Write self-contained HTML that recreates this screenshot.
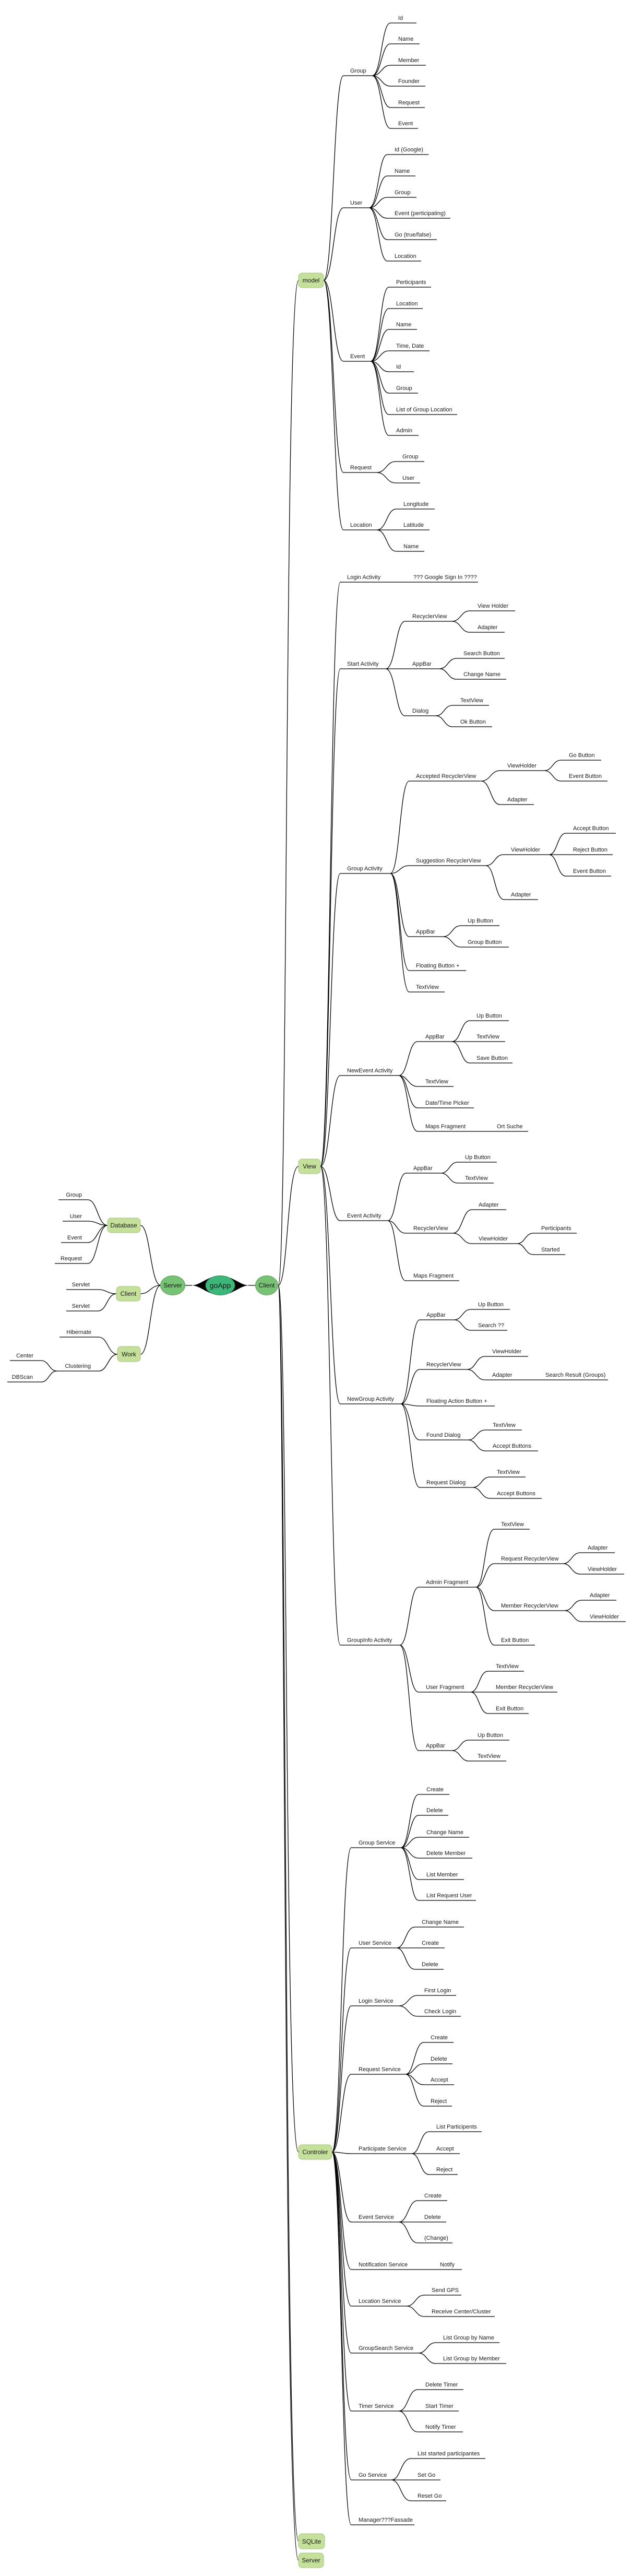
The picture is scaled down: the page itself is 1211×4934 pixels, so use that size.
<!DOCTYPE html>
<html><head><meta charset="utf-8"><style>
html,body{margin:0;padding:0;background:#fff;}
svg{display:block;}
text{font-family:"Liberation Sans",sans-serif;font-size:11px;fill:#1a1a1a;}
.b{font-size:12px;text-anchor:middle;}
</style></head><body>
<svg width="1211" height="4934" viewBox="0 0 1211 4934" xmlns="http://www.w3.org/2000/svg">
<g fill="none" stroke="#000" stroke-width="1.3">
<!-- Client trunk -->
<path d="M533 2462C552 2462 545 537 572 537"/>
<path d="M533 2462C552 2462 550 2234 572 2234"/>
<path d="M533 2462C552 2462 545 4122 572 4122"/>
<path d="M533 2462C548 2462 545 4867 572 4867"/>
<path d="M533 2462C546 2462 543 4904 572 4904"/>
<!-- left side -->
<path d="M308 2462C288 2462 288 2347 269 2347"/>
<path d="M308 2462C288 2462 288 2478 269 2478"/>
<path d="M308 2462C288 2462 288 2594 269 2594"/>
<path d="M206 2347C187 2347 187 2298 168 2298H112"/>
<path d="M206 2347C187 2347 187 2339 168 2339H120"/>
<path d="M206 2347C187 2347 187 2380 168 2380H117"/>
<path d="M206 2347C187 2347 187 2420 168 2420H105"/>
<path d="M223 2478C205 2478 205 2470 188 2470H127"/>
<path d="M223 2478C205 2478 205 2511 188 2511H127"/>
<path d="M225 2594C207 2594 207 2561 189 2561H114"/>
<path d="M225 2594C207 2594 207 2626 189 2626H109"/>
<path d="M109 2626C94 2626 94 2606 79 2606H19"/>
<path d="M109 2626C94 2626 94 2647 79 2647H14"/>
<path d="M355 2462H368M476 2462H490"/>
<!-- model -->
<path d="M620 537C639 537 639 145 658 145H713"/>
<path d="M713 145C731 145 731 44 748 44H798M713 145C731 145 731 84 748 84H804M713 145C731 145 731 125 748 125H816M713 145C731 145 731 165 748 165H815M713 145C731 145 731 206 748 206H814M713 145C731 145 731 246 748 246H801"/>
<path d="M620 537C639 537 639 398 658 398H707"/>
<path d="M707 398C725 398 725 296 742 296H821M707 398C725 398 725 337 742 337H796M707 398C725 398 725 378 742 378H798M707 398C725 398 725 418 742 418H863M707 398C725 398 725 459 742 459H837M707 398C725 398 725 500 742 500H807"/>
<path d="M620 537C639 537 639 692 658 692H710"/>
<path d="M710 692C728 692 728 550 745 550H826M710 692C728 692 728 591 745 591H810M710 692C728 692 728 631 745 631H799M710 692C728 692 728 672 745 672H823M710 692C728 692 728 712 745 712H793M710 692C728 692 728 753 745 753H801M710 692C728 692 728 794 745 794H876M710 692C728 692 728 834 745 834H802"/>
<path d="M620 537C639 537 639 905 658 905H722"/>
<path d="M722 905C740 905 740 884 758 884H813M722 905C740 905 740 925 758 925H805"/>
<path d="M620 537C639 537 639 1015 658 1015H722"/>
<path d="M722 1015C741 1015 741 975 759 975H833M722 1015C741 1015 741 1015 759 1015H823M722 1015C741 1015 741 1056 759 1056H813"/>
<!-- View -->
<path d="M614 2234C633 2234 633 1115 652 1115H916"/>
<path d="M614 2234C633 2234 633 1281 652 1281H739"/>
<path d="M739 1281C758 1281 758 1190 776 1190H866M739 1281C758 1281 758 1281 776 1281H842M739 1281C758 1281 758 1371 776 1371H835"/>
<path d="M866 1190C883 1190 883 1170 900 1170H987M866 1190C883 1190 883 1211 900 1211H967"/>
<path d="M842 1281C858 1281 858 1261 875 1261H967M842 1281C858 1281 858 1301 875 1301H970"/>
<path d="M835 1371C851 1371 851 1351 867 1351H937M835 1371C851 1371 851 1392 867 1392H943"/>
<path d="M614 2234C633 2234 633 1673 652 1673H748"/>
<path d="M748 1673C766 1673 766 1496 784 1496H922M748 1673C766 1673 766 1658 784 1658H931M748 1673C766 1673 766 1794 784 1794H849M748 1673C766 1673 766 1859 784 1859H893M748 1673C766 1673 766 1900 784 1900H852"/>
<path d="M922 1496C940 1496 940 1476 958 1476H1043M922 1496C940 1496 940 1541 958 1541H1023"/>
<path d="M1043 1476C1059 1476 1059 1456 1075 1456H1152M1043 1476C1059 1476 1059 1496 1075 1496H1164"/>
<path d="M931 1658C948 1658 948 1637 964 1637H1052M931 1658C948 1658 948 1723 966 1723H1031"/>
<path d="M1052 1637C1068 1637 1068 1596 1084 1596H1180M1052 1637C1068 1637 1068 1637 1084 1637H1174M1052 1637C1068 1637 1068 1678 1084 1678H1171"/>
<path d="M849 1794C866 1794 866 1773 883 1773H957M849 1794C866 1794 866 1814 883 1814H975"/>
<path d="M614 2234C633 2234 633 2060 652 2060H764"/>
<path d="M764 2060C782 2060 782 1995 800 1995H866M764 2060C782 2060 782 2081 800 2081H869M764 2060C782 2060 782 2122 800 2122H908M764 2060C782 2060 782 2167 800 2167H1012"/>
<path d="M866 1995C883 1995 883 1955 900 1955H975M866 1995C883 1995 883 1995 900 1995H968M866 1995C883 1995 883 2036 900 2036H982"/>
<path d="M614 2234C633 2234 633 2338 652 2338H743"/>
<path d="M743 2338C760 2338 760 2247 778 2247H845M743 2338C760 2338 760 2362 777 2362H868M743 2338C760 2338 760 2453 777 2453H880"/>
<path d="M845 2247C861 2247 861 2226 877 2226H952M845 2247C861 2247 861 2266 877 2266H946"/>
<path d="M868 2362C886 2362 886 2317 904 2317H970M868 2362C886 2362 886 2382 904 2382H991"/>
<path d="M991 2382C1006 2382 1006 2362 1022 2362H1105M991 2382C1006 2382 1006 2403 1022 2403H1083"/>
<path d="M614 2234C633 2234 633 2689 652 2689H768"/>
<path d="M768 2689C786 2689 786 2528 804 2528H870M768 2689C786 2689 786 2623 804 2623H895M768 2689C786 2689 786 2693 804 2693H948M768 2689C786 2689 786 2758 804 2758H897M768 2689C786 2689 786 2849 804 2849H906"/>
<path d="M870 2528C886 2528 886 2508 902 2508H977M870 2528C886 2528 886 2548 902 2548H972"/>
<path d="M895 2623C912 2623 912 2598 929 2598H1012M895 2623C912 2623 912 2643 929 2643H1165"/>
<path d="M897 2758C913 2758 913 2739 930 2739H1000M897 2758C913 2758 913 2779 930 2779H1031"/>
<path d="M906 2849C922 2849 922 2829 939 2829H1007M906 2849C922 2849 922 2870 939 2870H1038"/>
<path d="M614 2234C633 2234 633 3151 652 3151H766"/>
<path d="M766 3151C784 3151 784 3040 802 3040H912M766 3151C784 3151 784 3241 802 3241H902M766 3151C784 3151 784 3353 802 3353H866"/>
<path d="M912 3040C929 3040 929 2929 947 2929H1015M912 3040C929 3040 929 2995 947 2995H1079M912 3040C929 3040 929 3085 947 3085H1082M912 3040C929 3040 929 3151 947 3151H1025"/>
<path d="M1079 2995C1095 2995 1095 2974 1112 2974H1178M1079 2995C1095 2995 1095 3015 1112 3015H1196"/>
<path d="M1082 3085C1098 3085 1098 3065 1115 3065H1181M1082 3085C1098 3085 1098 3106 1115 3106H1199"/>
<path d="M902 3241C918 3241 918 3201 935 3201H1004M902 3241C918 3241 918 3241 935 3241H1068M902 3241C918 3241 918 3282 935 3282H1013"/>
<path d="M866 3353C882 3353 882 3333 898 3333H976M866 3353C882 3353 882 3373 898 3373H970"/>
<!-- Controler -->
<path d="M636 4122C654 4122 654 3539 673 3539H768"/>
<path d="M768 3539C785 3539 785 3437 802 3437H861M768 3539C785 3539 785 3477 802 3477H859M768 3539C785 3539 785 3519 802 3519H899M768 3539C785 3539 785 3559 802 3559H905M768 3539C785 3539 785 3600 802 3600H889M768 3539C785 3539 785 3640 802 3640H912"/>
<path d="M636 4122C654 4122 654 3731 673 3731H760"/>
<path d="M760 3731C777 3731 777 3691 795 3691H889M760 3731C777 3731 777 3731 795 3731H852M760 3731C777 3731 777 3772 795 3772H850"/>
<path d="M636 4122C654 4122 654 3842 673 3842H764"/>
<path d="M764 3842C782 3842 782 3822 800 3822H874M764 3842C782 3842 782 3862 800 3862H883"/>
<path d="M636 4122C654 4122 654 3973 673 3973H777"/>
<path d="M777 3973C794 3973 794 3912 812 3912H869M777 3973C794 3973 794 3953 812 3953H867M777 3973C794 3973 794 3993 812 3993H870M777 3973C794 3973 794 4034 812 4034H866"/>
<path d="M636 4122C654 4122 654 4125 673 4125H789"/>
<path d="M789 4125C805 4125 805 4083 822 4083H923M789 4125C805 4125 805 4125 822 4125H881M789 4125C805 4125 805 4165 822 4165H877"/>
<path d="M636 4122C654 4122 654 4256 673 4256H764"/>
<path d="M764 4256C782 4256 782 4215 800 4215H857M764 4256C782 4256 782 4256 800 4256H855M764 4256C782 4256 782 4296 800 4296H867"/>
<path d="M636 4122C654 4122 654 4347 673 4347H885"/>
<path d="M636 4122C654 4122 654 4417 673 4417H779"/>
<path d="M779 4417C796 4417 796 4396 813 4396H884M779 4417C796 4417 796 4437 813 4437H948"/>
<path d="M636 4122C654 4122 654 4507 673 4507H802"/>
<path d="M802 4507C818 4507 818 4487 835 4487H957M802 4507C818 4507 818 4527 835 4527H970"/>
<path d="M636 4122C654 4122 654 4618 673 4618H764"/>
<path d="M764 4618C782 4618 782 4577 800 4577H888M764 4618C782 4618 782 4618 800 4618H879M764 4618C782 4618 782 4658 800 4658H887"/>
<path d="M636 4122C654 4122 654 4750 673 4750H750"/>
<path d="M750 4750C768 4750 768 4709 787 4709H930M750 4750C768 4750 768 4750 787 4750H844M750 4750C768 4750 768 4790 787 4790H855"/>
<path d="M636 4122C654 4122 654 4836 673 4836H794"/>
</g>
<!-- goApp spindles -->
<path d="M366 2462C385 2462 396 2444 422 2444L422 2480C396 2480 385 2462 366 2462Z" fill="#000"/>
<path d="M478 2462C459 2462 448 2444 422 2444L422 2480C448 2480 459 2462 478 2462Z" fill="#000"/>
<!-- nodes -->
<g stroke="#a5c57e" stroke-width="1" fill="#c5e09b">
<rect x="572" y="523" width="48" height="28" rx="7"/>
<rect x="572" y="2220" width="42" height="28" rx="7"/>
<rect x="572" y="4108" width="64" height="28" rx="7"/>
<rect x="572" y="4853" width="50" height="29" rx="7"/>
<rect x="572" y="4890" width="48" height="28" rx="7"/>
<rect x="206" y="2333" width="63" height="28" rx="7"/>
<rect x="223" y="2464" width="46" height="28" rx="7"/>
<rect x="225" y="2579" width="44" height="29" rx="7"/>
</g>
<ellipse cx="331" cy="2462" rx="23.5" ry="18.5" fill="#78c275" stroke="#5f9f5c"/>
<ellipse cx="511" cy="2462" rx="21.5" ry="18.5" fill="#78c275" stroke="#5f9f5c"/>
<ellipse cx="422" cy="2462" rx="28" ry="18.5" fill="#3cb679" stroke="#2c8a5a"/>
<text class="b" x="596" y="541">model</text>
<text class="b" x="593" y="2238">View</text>
<text class="b" x="604" y="4126">Controler</text>
<text class="b" x="597" y="4872">SQLite</text>
<text class="b" x="596" y="4908">Server</text>
<text class="b" x="237" y="2351">Database</text>
<text class="b" x="246" y="2482">Client</text>
<text class="b" x="247" y="2598">Work</text>
<text class="b" x="331" y="2466">Server</text>
<text class="b" x="511" y="2466">Client</text>
<text class="b" x="422" y="2467" style="font-size:14px">goApp</text>
<!-- left labels -->
<g text-anchor="end">
<text x="157" y="2292">Group</text><text x="157" y="2333">User</text><text x="157" y="2374">Event</text><text x="157" y="2414">Request</text>
<text x="172" y="2464">Servlet</text><text x="172" y="2505">Servlet</text>
<text x="175" y="2555">Hibernate</text><text x="174" y="2620">Clustering</text>
<text x="64" y="2600">Center</text><text x="63" y="2641">DBScan</text>
</g>
<!-- model labels -->
<text x="671" y="139">Group</text>
<text x="763" y="38">Id</text><text x="763" y="78">Name</text><text x="763" y="119">Member</text><text x="763" y="159">Founder</text><text x="763" y="200">Request</text><text x="763" y="240">Event</text>
<text x="671" y="392">User</text>
<text x="756" y="290">Id (Google)</text><text x="756" y="331">Name</text><text x="756" y="372">Group</text><text x="756" y="412">Event (perticipating)</text><text x="756" y="453">Go (true/false)</text><text x="756" y="494">Location</text>
<text x="671" y="686">Event</text>
<text x="759" y="544">Perticipants</text><text x="759" y="585">Location</text><text x="759" y="625">Name</text><text x="759" y="666">Time, Date</text><text x="759" y="706">Id</text><text x="759" y="747">Group</text><text x="759" y="788">List of Group Location</text><text x="759" y="828">Admin</text>
<text x="671" y="899">Request</text>
<text x="771" y="878">Group</text><text x="771" y="919">User</text>
<text x="671" y="1009">Location</text>
<text x="773" y="969">Longitude</text><text x="773" y="1009">Latitude</text><text x="773" y="1050">Name</text>
<!-- View labels -->
<text x="665" y="1109">Login Activity</text><text x="792" y="1109">??? Google Sign In ????</text>
<text x="665" y="1275">Start Activity</text>
<text x="790" y="1184">RecyclerView</text><text x="915" y="1164">View Holder</text><text x="915" y="1205">Adapter</text>
<text x="790" y="1275">AppBar</text><text x="888" y="1255">Search Button</text><text x="888" y="1295">Change Name</text>
<text x="790" y="1365">Dialog</text><text x="882" y="1345">TextView</text><text x="882" y="1386">Ok Button</text>
<text x="665" y="1667">Group Activity</text>
<text x="797" y="1490">Accepted RecyclerView</text><text x="972" y="1470">ViewHolder</text><text x="1090" y="1450">Go Button</text><text x="1090" y="1490">Event Button</text><text x="972" y="1535">Adapter</text>
<text x="797" y="1652">Suggestion RecyclerView</text><text x="979" y="1631">ViewHolder</text><text x="1098" y="1590">Accept Button</text><text x="1098" y="1631">Reject Button</text><text x="1098" y="1672">Event Button</text><text x="979" y="1717">Adapter</text>
<text x="797" y="1788">AppBar</text><text x="896" y="1767">Up Button</text><text x="896" y="1808">Group Button</text>
<text x="797" y="1853">Floating Button +</text><text x="797" y="1894">TextView</text>
<text x="665" y="2054">NewEvent Activity</text>
<text x="815" y="1989">AppBar</text><text x="913" y="1949">Up Button</text><text x="913" y="1989">TextView</text><text x="913" y="2030">Save Button</text>
<text x="815" y="2075">TextView</text><text x="815" y="2116">Date/Time Picker</text><text x="815" y="2161">Maps Fragment</text><text x="952" y="2161">Ort Suche</text>
<text x="665" y="2332">Event Activity</text>
<text x="792" y="2241">AppBar</text><text x="891" y="2220">Up Button</text><text x="891" y="2260">TextView</text>
<text x="792" y="2356">RecyclerView</text><text x="917" y="2311">Adapter</text><text x="917" y="2376">ViewHolder</text><text x="1037" y="2356">Perticipants</text><text x="1037" y="2397">Started</text>
<text x="792" y="2447">Maps Fragment</text>
<text x="665" y="2683">NewGroup Activity</text>
<text x="817" y="2522">AppBar</text><text x="916" y="2502">Up Button</text><text x="916" y="2542">Search ??</text>
<text x="817" y="2617">RecyclerView</text><text x="943" y="2592">ViewHolder</text><text x="943" y="2637">Adapter</text><text x="1045" y="2637">Search Result (Groups)</text>
<text x="817" y="2687">Floating Action Button +</text>
<text x="817" y="2752">Found Dialog</text><text x="944" y="2733">TextView</text><text x="944" y="2773">Accept Buttons</text>
<text x="817" y="2843">Request Dialog</text><text x="952" y="2823">TextView</text><text x="952" y="2864">Accept Buttons</text>
<text x="665" y="3145">GroupInfo Activity</text>
<text x="816" y="3034">Admin Fragment</text><text x="960" y="2923">TextView</text>
<text x="960" y="2989">Request RecyclerView</text><text x="1126" y="2968">Adapter</text><text x="1126" y="3009">ViewHolder</text>
<text x="960" y="3079">Member RecyclerView</text><text x="1130" y="3059">Adapter</text><text x="1130" y="3100">ViewHolder</text>
<text x="960" y="3145">Exit Button</text>
<text x="816" y="3235">User Fragment</text><text x="950" y="3195">TextView</text><text x="950" y="3235">Member RecyclerView</text><text x="950" y="3276">Exit Button</text>
<text x="816" y="3347">AppBar</text><text x="915" y="3327">Up Button</text><text x="915" y="3367">TextView</text>
<!-- Controler labels -->
<text x="687" y="3533">Group Service</text>
<text x="817" y="3431">Create</text><text x="817" y="3471">Delete</text><text x="817" y="3513">Change Name</text><text x="817" y="3553">Delete Member</text><text x="817" y="3594">List Member</text><text x="817" y="3634">List Request User</text>
<text x="687" y="3725">User Service</text>
<text x="808" y="3685">Change Name</text><text x="808" y="3725">Create</text><text x="808" y="3766">Delete</text>
<text x="687" y="3836">Login Service</text>
<text x="813" y="3816">First Login</text><text x="813" y="3856">Check Login</text>
<text x="687" y="3967">Request Service</text>
<text x="825" y="3906">Create</text><text x="825" y="3947">Delete</text><text x="825" y="3987">Accept</text><text x="825" y="4028">Reject</text>
<text x="687" y="4119">Participate Service</text>
<text x="836" y="4077">List Participents</text><text x="836" y="4119">Accept</text><text x="836" y="4159">Reject</text>
<text x="687" y="4250">Event Service</text>
<text x="813" y="4209">Create</text><text x="813" y="4250">Delete</text><text x="813" y="4290">(Change)</text>
<text x="687" y="4341">Notification Service</text><text x="843" y="4341">Notify</text>
<text x="687" y="4411">Location Service</text>
<text x="827" y="4390">Send GPS</text><text x="827" y="4431">Receive Center/Cluster</text>
<text x="687" y="4501">GroupSearch Service</text>
<text x="849" y="4481">List Group by Name</text><text x="849" y="4521">List Group by Member</text>
<text x="687" y="4612">Timer Service</text>
<text x="815" y="4571">Delete Timer</text><text x="815" y="4612">Start Timer</text><text x="815" y="4652">Notify Timer</text>
<text x="687" y="4744">Go Service</text>
<text x="800" y="4703">List started participantes</text><text x="800" y="4744">Set Go</text><text x="800" y="4784">Reset Go</text>
<text x="687" y="4830">Manager???Fassade</text>
</svg>
</body></html>
